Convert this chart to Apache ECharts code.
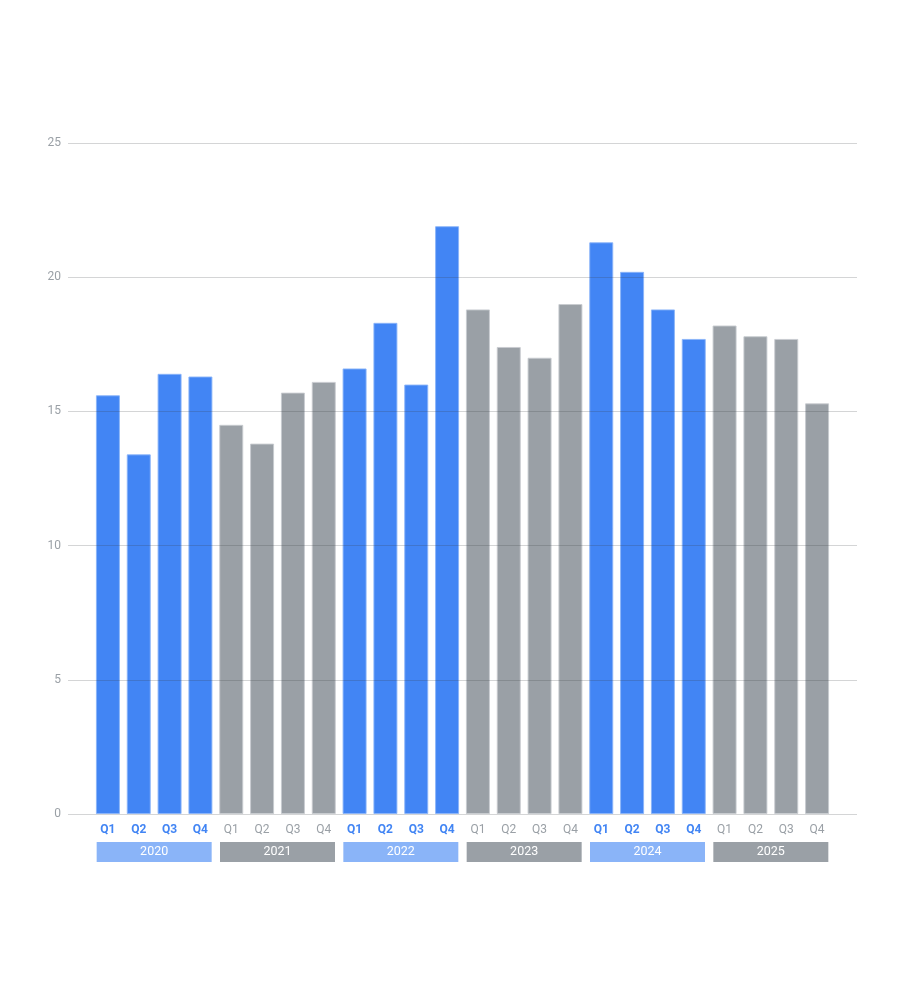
<!DOCTYPE html>
<html>
<head>
<meta charset="utf-8">
<script src="https://cdn.jsdelivr.net/npm/echarts@6/dist/echarts.min.js"></script>
<style>
  html, body { margin: 0; padding: 0; background: #ffffff; }
  #chart { width: 904px; height: 1000px; }
</style>
</head>
<body>
<div id="chart"></div>
<script>
const years = ['2020', '2021', '2022', '2023', '2024', '2025'];
const quarters = ['Q1', 'Q2', 'Q3', 'Q4'];
const highlightYears = ['2020', '2022', '2024'];
const values2020 = [15.6, 13.4, 16.4, 16.3];
const values2021 = [14.5, 13.8, 15.7, 16.1];
const values2022 = [16.6, 18.3, 16.0, 21.9];
const values2023 = [18.8, 17.4, 17.0, 19.0];
const values2024 = [21.3, 20.2, 18.8, 17.7];
const values2025 = [18.2, 17.8, 17.7, 15.3];
const yTicks = [0, 5, 10, 15, 20, 25];

const valuesByYear = [values2020, values2021, values2022, values2023, values2024, values2025];
const categories = [];
const barData = [];
years.forEach((y, i) => {
  const hi = highlightYears.includes(y);
  quarters.forEach((q, j) => {
    categories.push(y + ' ' + q);
    barData.push({
      value: valuesByYear[i][j],
      itemStyle: {
        color: hi ? '#4285f4' : '#9aa0a6',
        borderColor: hi ? 'rgba(138,180,248,0.9)' : 'rgba(200,203,207,0.9)',
        borderWidth: 1
      }
    });
  });
});

const chart = echarts.init(document.getElementById('chart'));
chart.setOption({
  backgroundColor: '#ffffff',
  animation: false,
  textStyle: { fontFamily: 'Roboto, "Noto Sans", sans-serif' },
  grid: [
    { left: 68, right: 47, top: 143, bottom: 186 },
    { left: 92.5, right: 71.5, top: 143, bottom: 186 }
  ],
  xAxis: [
    { gridIndex: 0, type: 'category', data: categories, show: false },
    {
      gridIndex: 1, type: 'category', data: categories,
      axisLine: { show: false }, axisTick: { show: false },
      axisLabel: {
        margin: 10,
        interval: 0,
        formatter: function (v) {
          const parts = v.split(' ');
          return highlightYears.includes(parts[0]) ? '{hi|' + parts[1] + '}' : '{lo|' + parts[1] + '}';
        },
        rich: {
          hi: { color: '#4285f4', fontWeight: 'bold', fontSize: 12, fontFamily: 'Roboto' },
          lo: { color: '#9aa0a6', fontWeight: 'normal', fontSize: 12, fontFamily: 'Roboto' }
        }
      }
    },
    {
      gridIndex: 1, type: 'category', data: years, position: 'bottom', offset: 28,
      axisLine: { show: false }, axisTick: { show: false },
      axisLabel: {
        margin: 0,
        interval: 0,
        formatter: function (v) {
          return highlightYears.includes(v) ? '{hi|' + v + '}' : '{lo|' + v + '}';
        },
        rich: {
          hi: { backgroundColor: '#8ab4f8', color: '#ffffff', width: 115, height: 20, lineHeight: 20, align: 'center', fontSize: 12.5, fontFamily: 'Roboto' },
          lo: { backgroundColor: '#9aa0a6', color: '#ffffff', width: 115, height: 20, lineHeight: 20, align: 'center', fontSize: 12.5, fontFamily: 'Roboto' }
        }
      }
    }
  ],
  yAxis: [
    {
      gridIndex: 0, type: 'value', min: 0, max: 25, interval: 5, z: 3,
      axisLine: { show: false }, axisTick: { show: false },
      axisLabel: { color: '#9aa0a6', fontSize: 12, margin: 7, fontFamily: 'Roboto', verticalAlign: 'middle', padding: [3, 0, 0, 0] },
      splitLine: { show: true, lineStyle: { color: 'rgba(60,64,67,0.22)', width: 1 } }
    },
    {
      gridIndex: 1, type: 'value', min: 0, max: 25, interval: 5, show: false,
      splitLine: { show: false }
    }
  ],
  series: [
    {
      type: 'bar',
      xAxisIndex: 1,
      yAxisIndex: 1,
      barWidth: 24,
      data: barData
    }
  ]
});
</script>
</body>
</html>
